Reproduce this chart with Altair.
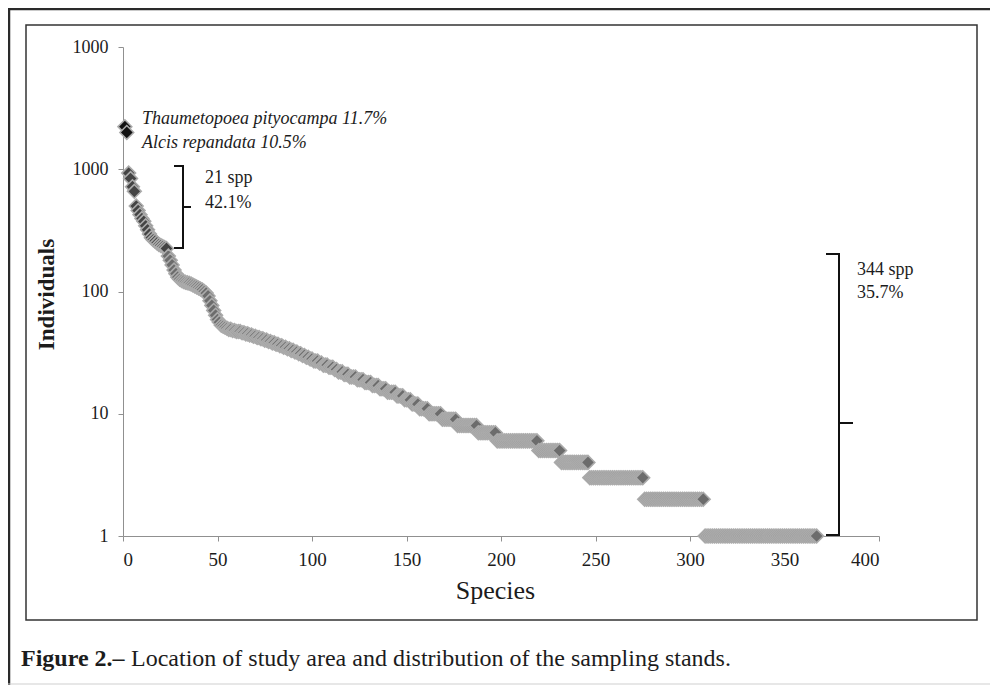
import altair as alt
import pandas as pd

# ---------------- data ----------------
top_species = ["Thaumetopoea pityocampa", "Alcis repandata"]
top_individuals = [2230, 2000]

# 21 dominant species (ranks 3-23)
dominant_individuals = [930, 840, 720, 660, 500, 460, 425, 395, 375, 345,
                        320, 295, 275, 265, 258, 250, 242, 238, 233, 229, 225]

# ranks 24-152
mid_individuals = [195, 180, 165, 150, 140, 131, 126, 123, 121, 119,
                   118, 117, 115, 113, 111, 109, 107, 105, 103, 100,
                   97, 92, 84, 77, 70, 64, 59, 56, 53, 52,
                   51, 50, 49, 49, 48, 48, 47,
                   47, 47, 46, 46, 45, 45, 44, 44, 43, 43,
                   42, 42, 41, 41, 40, 40, 39, 39, 38, 38,
                   37, 37, 36, 36, 35, 35, 34, 34, 33, 33,
                   32, 32, 31, 31, 30, 30, 29, 29, 28, 28,
                   27, 27, 27, 26, 26, 25, 25, 25, 24, 24,
                   24, 23, 23, 22, 22, 22, 21, 21, 21, 20,
                   20, 20, 20, 19, 19, 19, 19, 18, 18, 18,
                   18, 17, 17, 17, 17, 16, 16, 16, 16, 15,
                   15, 15, 15, 15, 14, 14, 14, 14, 13, 13,
                   13, 13]

# rare species (ranks 153-367): abundance level and number of species at it
tail_levels = [12, 11, 10, 9, 8, 7, 6, 5, 4, 3, 2, 1]
tail_counts = [4, 5, 7, 8, 11, 10, 22, 12, 15, 29, 32, 60]

x_ticks = [0, 50, 100, 150, 200, 250, 300, 350, 400]
y_ticks = [1, 10, 100, 1000, 10000]

annot_top = ["Thaumetopoea pityocampa 11.7%", "Alcis repandata 10.5%"]
annot_dom = ["21 spp", "42.1%"]
annot_rare = ["344 spp", "35.7%"]
caption_bold = "Figure 2.\u2013"
caption_text = "Location of study area and distribution of the sampling stands."

# ---------------- table ----------------
individuals = list(top_individuals) + list(dominant_individuals) + list(mid_individuals)
groups = ["top"] * len(top_individuals) + ["dominant"] * len(dominant_individuals) + ["rest"] * len(mid_individuals)
for lvl, cnt in zip(tail_levels, tail_counts):
    individuals += [lvl] * cnt
    groups += ["rest"] * cnt
df = pd.DataFrame({
    "rank": list(range(1, len(individuals) + 1)),
    "individuals": individuals,
    "group": groups,
})

FONT = "Liberation Serif"
TXT = "#1c1c1c"
AX = "#909090"
W, H = 756, 489
one = alt.Data(values=[{}])

x_scale = alt.Scale(domain=[0, 400], nice=False, zero=False)
y_scale = alt.Scale(type="log", domain=[1, 10000], nice=False)

points = alt.Chart(df).mark_point(
    shape="diamond", filled=True, size=190, strokeWidth=1.6, opacity=1, stroke="#ababab"
).encode(
    x=alt.X("rank:Q", scale=x_scale, axis=alt.Axis(
        values=x_ticks, format="d", grid=False, domainColor=AX, tickColor=AX,
        tickSize=5, labelFont=FONT, labelFontSize=19, labelColor=TXT, labelPadding=9,
        title="Species", titleFont=FONT, titleFontSize=26, titleFontWeight="normal",
        titleColor=TXT, titleX=372, titleY=62, titleBaseline="alphabetic")),
    y=alt.Y("individuals:Q", scale=y_scale, axis=alt.Axis(
        values=y_ticks, grid=False, domainColor=AX, tickColor=AX, tickSize=5,
        labelExpr="datum.value >= 10000 ? '1000' : format(datum.value, 'd')",
        labelFont=FONT, labelFontSize=18, labelColor=TXT, labelPadding=10,
        title="Individuals", titleFont=FONT, titleFontSize=23, titleFontWeight="bold",
        titleColor=TXT, titleAngle=270, titleX=-77, titleY=247, titleBaseline="middle",
        titleAlign="center")),
    fill=alt.Fill("group:N", scale=alt.Scale(domain=["top", "dominant", "rest"],
                                            range=["#111111", "#444444", "#6c6c6c"]), legend=None),
)


def seg(x1, y1, x2, y2, color="#111111", width=2.0):
    return alt.Chart(one).mark_rule(color=color, strokeWidth=width, strokeCap="square").encode(
        x=alt.value(x1), y=alt.value(y1), x2=alt.value(x2), y2=alt.value(y2))


def txt(s, x, y, size=18, style="normal", weight="normal"):
    return alt.Chart(one).mark_text(
        text=s, align="left", baseline="alphabetic", font=FONT, fontSize=size,
        fontStyle=style, fontWeight=weight, color=TXT
    ).encode(x=alt.value(x), y=alt.value(y))


layers = [points]
# outer frame and inner box
layers += [seg(-115, -38, 867, -38, "#2a2a2a", 2.5), seg(-114, -39, -114, 638, "#2a2a2a", 2.5),
           seg(-115, 637, 867, 637, "#cfcfcf", 1.2)]
layers.append(alt.Chart(one).mark_rect(filled=False, stroke="#333333", strokeWidth=1.5).encode(
    x=alt.value(-97), x2=alt.value(854), y=alt.value(-22), y2=alt.value(573)))
# bracket for 21 spp
layers += [seg(52, 119, 60, 119), seg(60, 119, 60, 201), seg(60, 160, 67, 160), seg(52, 201, 60, 201)]
# bracket for 344 spp
layers += [seg(704, 207, 716, 207), seg(716, 207, 716, 488), seg(716, 376, 729, 376), seg(704, 488, 716, 488)]
# annotations
layers += [txt(annot_top[0], 19, 77, style="italic"), txt(annot_top[1], 19, 101, style="italic")]
layers += [txt(annot_dom[0], 82, 136), txt(annot_dom[1], 82, 161)]
layers += [txt(annot_rare[0], 734, 228), txt(annot_rare[1], 734, 251)]
# caption
layers += [txt(caption_bold, -102, 619, size=24, weight="bold"), txt(caption_text, 8, 619, size=24)]

chart = alt.layer(*layers).properties(
    width=W, height=H,
    autosize=alt.AutoSizeParams(type="none"),
    padding={"left": 115, "top": 39, "right": 111, "bottom": 149},
).configure_view(stroke=None)

chart.save("out.html", embed_options={"renderer": "svg", "actions": False})
